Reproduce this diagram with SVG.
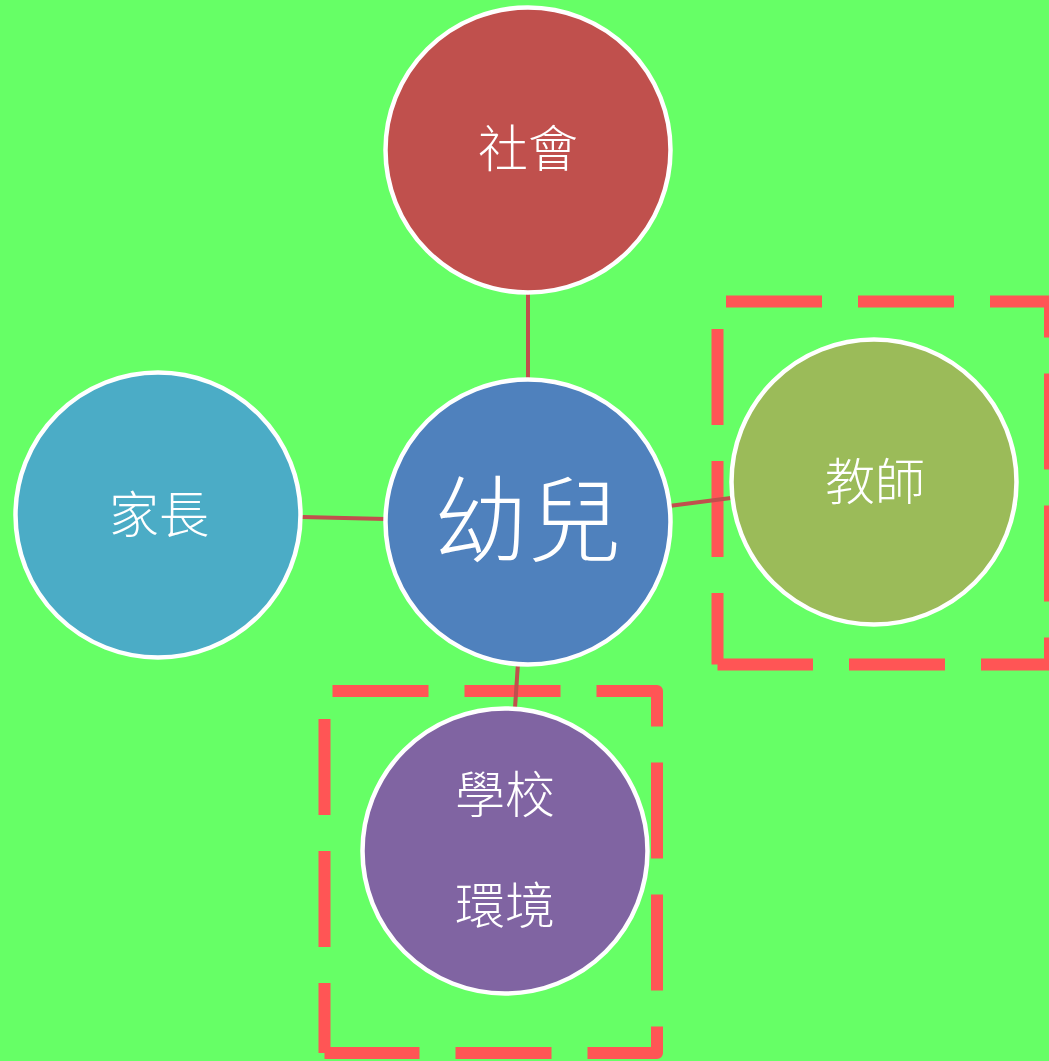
<svg xmlns="http://www.w3.org/2000/svg" width="1049" height="1061" viewBox="0 0 1049 1061">
<style>
.bg{fill:#66FF66}
.grp{fill:none;stroke:#FF5555;stroke-width:12;stroke-dasharray:96 36;stroke-linejoin:round}
.conn line{stroke:#C0504D;stroke-width:4}
.node circle{stroke:#FFFFFF;stroke-width:4.5}
.lbl{fill:#FFFFFF;font-family:"Noto Sans CJK TC","Noto Sans CJK SC",sans-serif;font-weight:300;font-size:50px;text-anchor:middle;dominant-baseline:central}
</style>
<rect class="bg" x="0" y="0" width="1049" height="1061"/>
<g id="groups">
<path class="grp" d="M717.5,664.5 V301.5 H1050 V664.5 H717.5" stroke-dashoffset="24.5"/>
<path class="grp" d="M324.5,1053 V691 H657 V1053 H324.5" stroke-dashoffset="26"/>
</g>
<g id="connectors" class="conn">
<line x1="528" y1="292" x2="528" y2="380"/>
<line x1="302" y1="517" x2="386" y2="519"/>
<line x1="669" y1="506" x2="731" y2="498"/>
<line x1="518" y1="663" x2="515" y2="708"/>
</g>
<g id="n-society" class="node">
<circle cx="528" cy="150" r="142.5" fill="#C0504D"/>
<text class="lbl" x="528" y="145">社會</text>
</g>
<g id="n-child" class="node">
<circle cx="528" cy="522" r="142.5" fill="#4F81BD"/>
<text class="lbl" x="528" y="514" style="font-size:94px">幼兒</text>
</g>
<g id="n-parent" class="node">
<circle cx="158" cy="515" r="142.5" fill="#4BACC6"/>
<text class="lbl" x="159" y="511">家長</text>
</g>
<g id="n-teacher" class="node">
<circle cx="874" cy="482" r="142.5" fill="#9BBB59"/>
<text class="lbl" x="875" y="478">教師</text>
</g>
<g id="n-school" class="node">
<circle cx="505" cy="851" r="142.5" fill="#8064A2"/>
<text class="lbl" x="505" y="791">學校</text>
<text class="lbl" x="505" y="902">環境</text>
</g>
</svg>
